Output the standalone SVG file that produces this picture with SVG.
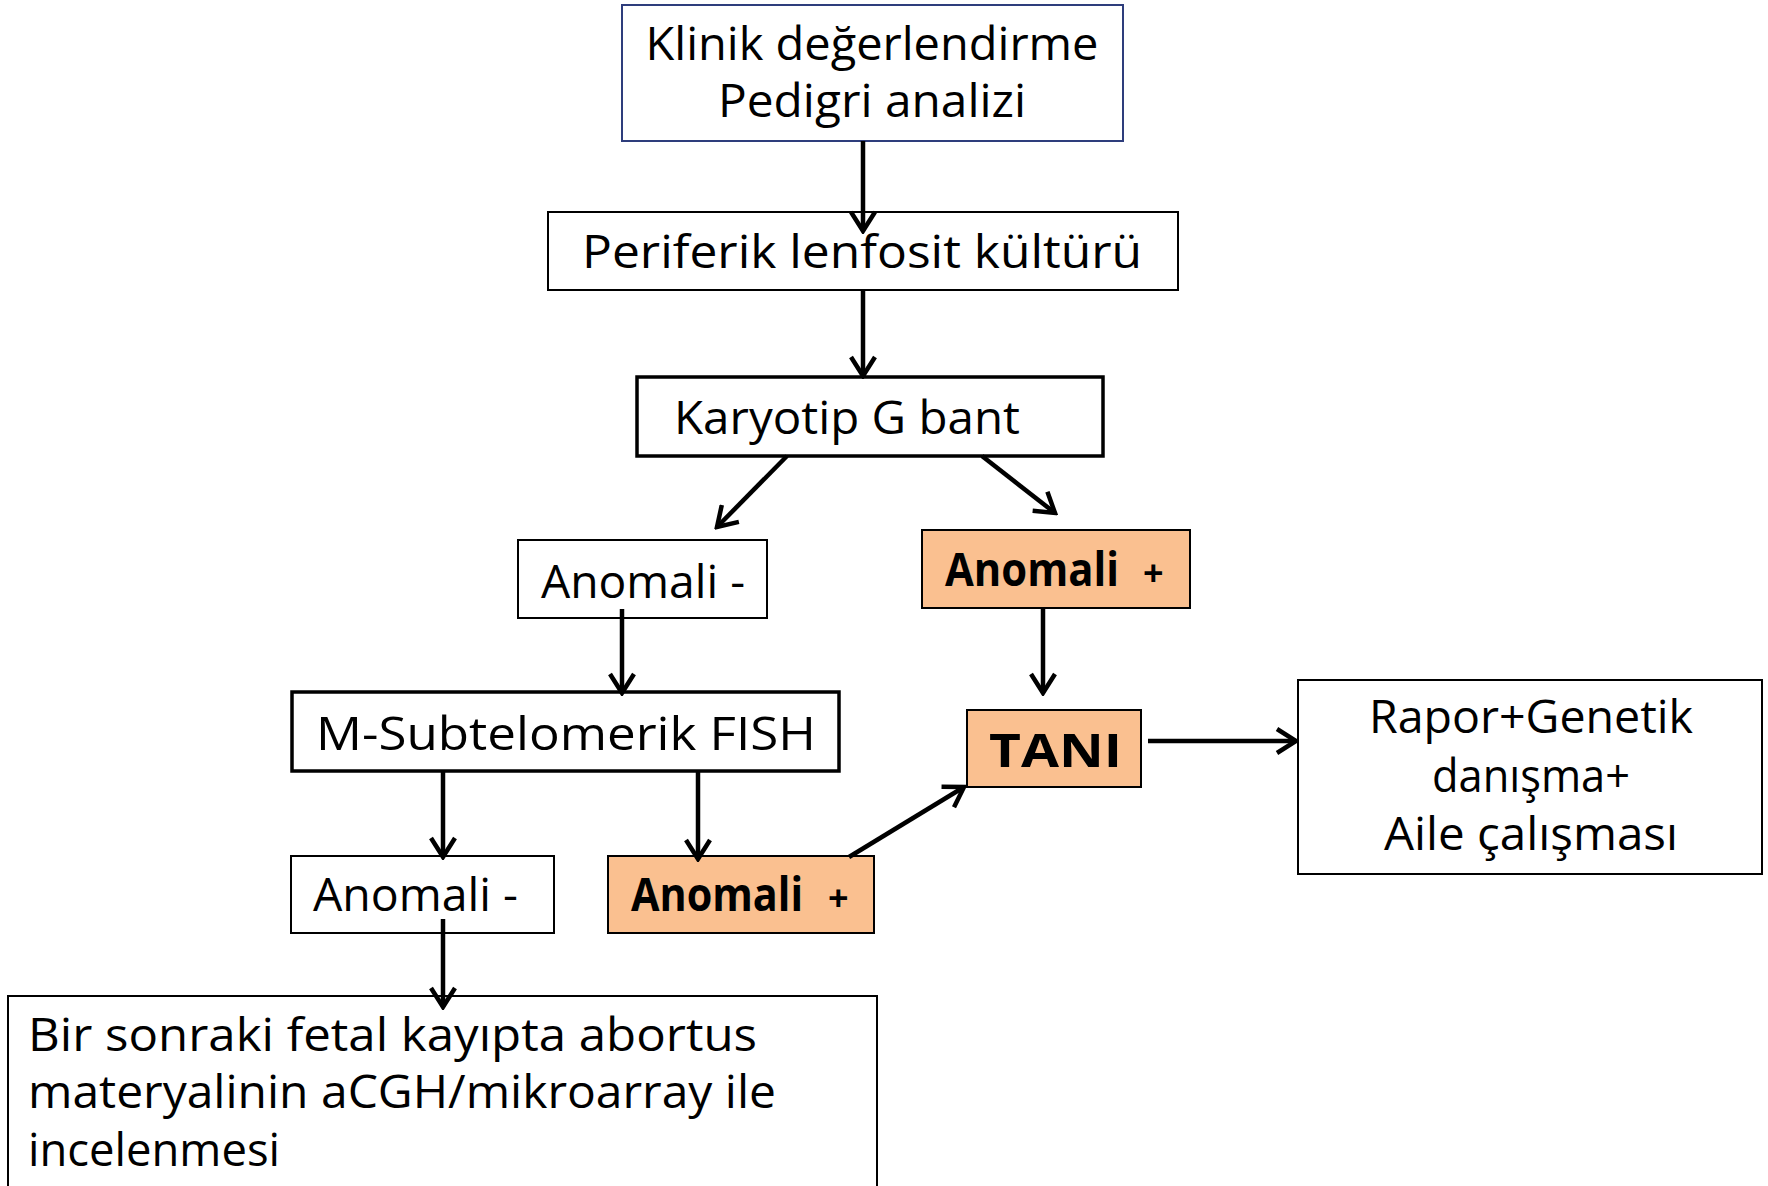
<svg xmlns="http://www.w3.org/2000/svg" width="1768" height="1186" viewBox="0 0 1768 1186">
<style>
  .box { fill: #ffffff; stroke: #000000; stroke-width: 2; }
  .thick { stroke-width: 3.5; }
  .orange { fill: #FAC090; }
  .navy { stroke: #2E3D7C; }
  .t { font-family: "Open Sans", "DejaVu Sans", sans-serif; font-size: 46px; fill: #000000; }
  .b { font-weight: bold; }
  .c { text-anchor: middle; }
  .plus { font-size: 36px; }
  .conn line { stroke: #000000; stroke-width: 4.5; }
</style>
<defs>
  <marker id="arr" markerUnits="userSpaceOnUse" viewBox="0 0 24 28" markerWidth="24" markerHeight="28" refX="21" refY="14" orient="auto">
    <path d="M2,2 L21,14 L2,26" fill="none" stroke="#000000" stroke-width="4.5" stroke-linejoin="miter"/>
  </marker>
</defs>
<rect width="1768" height="1186" fill="#ffffff"/>

<g id="klinik">
  <rect class="box navy" x="622" y="5" width="501" height="136"/>
  <text class="t c" x="872" y="60" textLength="453" lengthAdjust="spacingAndGlyphs">Klinik değerlendirme</text>
  <text class="t c" x="872" y="117" textLength="308" lengthAdjust="spacingAndGlyphs">Pedigri analizi</text>
</g>
<g id="periferik">
  <rect class="box" x="548" y="212" width="630" height="78"/>
  <text class="t" x="582" y="268" textLength="560" lengthAdjust="spacingAndGlyphs">Periferik lenfosit kültürü</text>
</g>
<g id="karyotip">
  <rect class="box thick" x="637" y="377" width="466" height="79"/>
  <text class="t" x="674" y="434" textLength="346" lengthAdjust="spacingAndGlyphs">Karyotip G bant</text>
</g>
<g id="anomali-neg-1">
  <rect class="box" x="518" y="540" width="249" height="78"/>
  <text class="t" x="541" y="598" textLength="204" lengthAdjust="spacingAndGlyphs">Anomali -</text>
</g>
<g id="anomali-pos-1">
  <rect class="box orange" x="922" y="530" width="268" height="78"/>
  <text class="t b" y="586"><tspan x="945" textLength="174" lengthAdjust="spacingAndGlyphs">Anomali</tspan> <tspan class="plus" x="1143">+</tspan></text>
</g>
<g id="fish">
  <rect class="box thick" x="292" y="692" width="547" height="79"/>
  <text class="t" x="316" y="750" textLength="500" lengthAdjust="spacingAndGlyphs">M-Subtelomerik FISH</text>
</g>
<g id="tani">
  <rect class="box orange" x="967" y="710" width="174" height="77"/>
  <text class="t b" x="989" y="767" textLength="133" lengthAdjust="spacingAndGlyphs">TANI</text>
</g>
<g id="rapor">
  <rect class="box" x="1298" y="680" width="464" height="194"/>
  <text class="t c" x="1531" y="733" textLength="324" lengthAdjust="spacingAndGlyphs">Rapor+Genetik</text>
  <text class="t c" x="1531" y="792" textLength="198" lengthAdjust="spacingAndGlyphs">danışma+</text>
  <text class="t c" x="1531" y="850" textLength="294" lengthAdjust="spacingAndGlyphs">Aile çalışması</text>
</g>
<g id="anomali-neg-2">
  <rect class="box" x="291" y="856" width="263" height="77"/>
  <text class="t" x="313" y="911" textLength="205" lengthAdjust="spacingAndGlyphs">Anomali -</text>
</g>
<g id="anomali-pos-2">
  <rect class="box orange" x="608" y="856" width="266" height="77"/>
  <text class="t b" y="911"><tspan x="631" textLength="172" lengthAdjust="spacingAndGlyphs">Anomali</tspan> <tspan class="plus" x="828">+</tspan></text>
</g>
<g id="abortus">
  <rect class="box" x="8" y="996" width="869" height="200"/>
  <text class="t" x="28" y="1051" textLength="729" lengthAdjust="spacingAndGlyphs">Bir sonraki fetal kayıpta abortus</text>
  <text class="t" x="28" y="1108" textLength="748" lengthAdjust="spacingAndGlyphs">materyalinin aCGH/mikroarray ile</text>
  <text class="t" x="28" y="1166" textLength="252" lengthAdjust="spacingAndGlyphs">incelenmesi</text>
</g>

<g id="connectors" class="conn">
  <line x1="863" y1="141" x2="863" y2="231" marker-end="url(#arr)"/>
  <line x1="863" y1="290" x2="863" y2="376" marker-end="url(#arr)"/>
  <line x1="787" y1="456" x2="717" y2="527" marker-end="url(#arr)"/>
  <line x1="982" y1="456" x2="1055" y2="513" marker-end="url(#arr)"/>
  <line x1="622" y1="609" x2="622" y2="693" marker-end="url(#arr)"/>
  <line x1="1043" y1="608" x2="1043" y2="693" marker-end="url(#arr)"/>
  <line x1="1148" y1="741" x2="1296" y2="741" marker-end="url(#arr)"/>
  <line x1="443" y1="771" x2="443" y2="857" marker-end="url(#arr)"/>
  <line x1="698" y1="771" x2="698" y2="859" marker-end="url(#arr)"/>
  <line x1="849" y1="857" x2="964" y2="787" marker-end="url(#arr)"/>
  <line x1="443" y1="919" x2="443" y2="1007" marker-end="url(#arr)"/>
</g>
</svg>
